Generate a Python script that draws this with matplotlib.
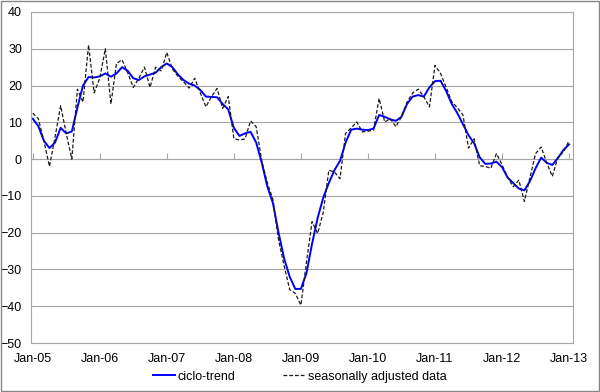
import matplotlib
matplotlib.use('Agg')
import matplotlib.pyplot as plt

# font and colours
plt.rcParams['font.family'] = 'Liberation Sans'
plt.rcParams['font.size'] = 9
plt.rcParams['axes.edgecolor'] = '#a6a6a6'
plt.rcParams['axes.linewidth'] = 0.8

# monthly data, Jan-05 .. Jan-13
trend = [11, 9, 5, 3, 4.5, 8.5, 7, 7.5, 14, 20, 22.3, 22.2,
         22.5, 23.3, 22.4, 23.3, 25, 24, 22, 21.5, 22.5, 23, 23.5, 25,
         26, 25, 23, 21.5, 20.5, 20, 18.8, 17, 16.9, 16.8, 15, 13.5,
         8.5, 6.3, 7, 7.4, 4.5, -1, -7.5, -12, -20, -27, -32, -35.3,
         -35.3, -31, -23, -16, -10.5, -6.5, -3, -0.5, 4.5, 8, 8.3, 8,
         7.9, 8.3, 12, 11.5, 10.8, 10.4, 11.5, 15, 17, 17.4, 17, 19.5,
         21.2, 21.3, 18.5, 15, 12.5, 9.5, 6.5, 4.3, 0.5, -1.3, -1.2, -0.7,
         -2.2, -5, -6.5, -8, -8.5, -6, -2.5, 0.4, -1, -1.6, 0.3, 2.5,
         4]
sa_data = [12.5, 11, 5, -2, 6, 14.5, 7, 0, 19, 15.5, 31, 18,
           22, 30, 15, 26, 27, 23.5, 19.5, 22, 25, 19.5, 25, 24,
           29, 24.5, 22.5, 21, 19.3, 22, 18, 14.2, 17, 19.2, 13.8, 17,
           5.6, 5.2, 5.5, 10.4, 8.8, -0.5, -6.5, -11, -22, -29, -35.5, -36.5,
           -39.7, -28, -17, -20.2, -14.5, -3, -3.5, -5.3, 7, 8.5, 10.1, 7.4,
           7.6, 7.9, 16.5, 10.1, 11, 8.8, 11.5, 15.5, 18, 19, 17, 14.2,
           25.5, 23.3, 19.5, 15.6, 14, 12, 3, 5.5, -1.8, -2, -2.5, 1.5,
           -1.5, -5, -7.5, -5.7, -11.5, -5, 1.5, 3.3, -1, -4.7, 0.5, 2,
           5]
year_labels = ['Jan-05', 'Jan-06', 'Jan-07', 'Jan-08', 'Jan-09',
               'Jan-10', 'Jan-11', 'Jan-12', 'Jan-13']
months = list(range(len(trend)))

fig = plt.figure(figsize=(6, 3.92), dpi=100)
ax = fig.add_axes([0.0517, 0.125, 0.9033, 0.8444])

ax.plot(months, trend, color='#0000ff', linewidth=1.4, label='ciclo-trend',
        solid_joinstyle='round')
ax.plot(months, sa_data, color='#1a1a1a', linewidth=0.9,
        linestyle=(0, (3, 1.6)), label='seasonally adjusted data')

ax.set_xlim(-0.3, 96.7)
ax.set_ylim(-50, 40)
ax.set_yticks(range(-50, 41, 10))
ax.yaxis.grid(True, color='#a6a6a6', linewidth=0.8)
ax.set_axisbelow(True)

year_ticks = [12 * i for i in range(len(year_labels))]
ax.set_xticks(year_ticks)
ax.set_xticklabels(year_labels)
ax.tick_params(axis='x', length=0, pad=7)
ax.tick_params(axis='y', length=0, pad=6.5)

# small tick marks on the zero line
zero_axis = ax.secondary_xaxis(50 / 90)
zero_axis.set_xticks(year_ticks)
zero_axis.set_xticklabels([])
zero_axis.tick_params(axis='x', direction='out', length=4, color='#a6a6a6', width=0.8)
zero_axis.spines['bottom'].set_color('#a6a6a6')
zero_axis.spines['bottom'].set_linewidth(0.8)

fig.legend(loc='center', bbox_to_anchor=(0.5, 0.039), ncol=2, frameon=False,
           handlelength=1.8, handletextpad=0.2, columnspacing=3.8)

# outer chart border
fig.add_artist(plt.Rectangle((0.001, 0.0015), 0.997, 0.996, transform=fig.transFigure,
                             fill=False, edgecolor='#868686', linewidth=1))

plt.savefig('out.png', dpi=100)
